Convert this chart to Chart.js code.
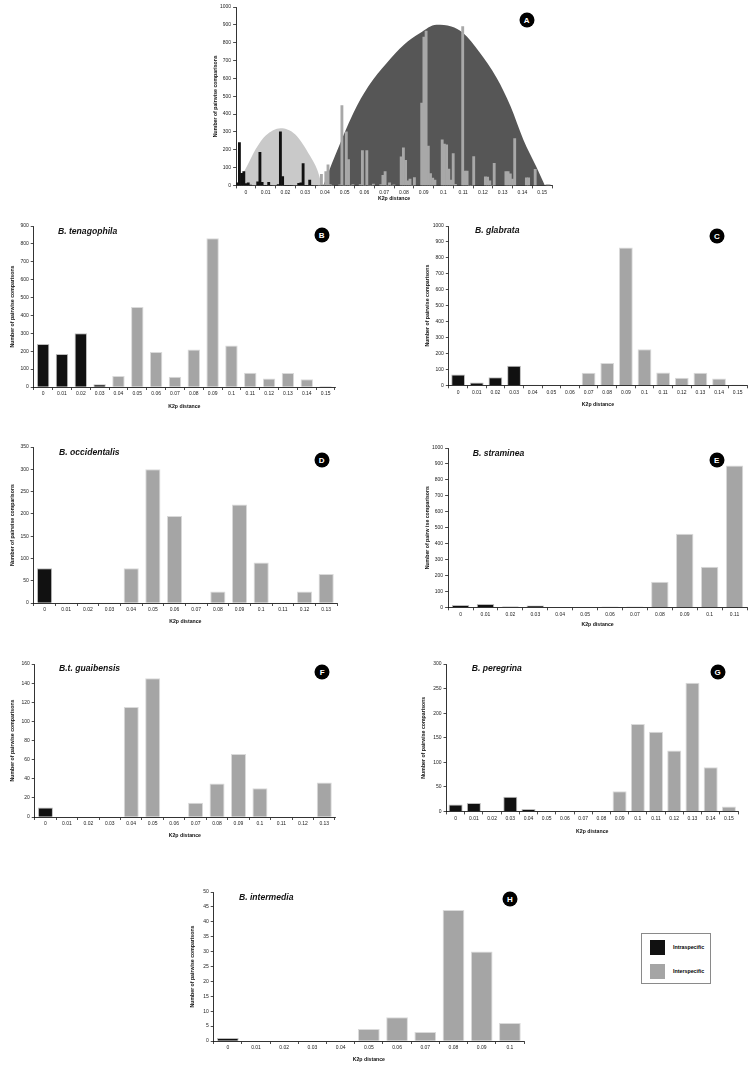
<!DOCTYPE html>
<html>
<head>
<meta charset="utf-8">
<script src="https://cdn.jsdelivr.net/npm/chart.js@4.4.0/dist/chart.umd.min.js"></script>
<style>
  html, body { margin: 0; padding: 0; background: #fff; }
  body { width: 756px; height: 1071px; position: relative; overflow: hidden; font-family: "Liberation Sans", Arial, sans-serif; }
  .panel { position: absolute; }
  .species { position: absolute; font-weight: bold; font-style: italic; font-size: 8.6px; line-height: 1; transform: translateY(-50%); white-space: nowrap; color: #111; }
  .badge { position: absolute; width: 15px; height: 15px; border-radius: 50%; background: #000; color: #fff; font-weight: bold; font-size: 8px; line-height: 15px; text-align: center; transform: translate(-50%, -50%); }
  .legend { position: absolute; left: 641px; top: 933px; width: 70px; height: 51px; border: 1px solid #8a8a8a; box-sizing: border-box; }
  .legend .sw { position: absolute; left: 8px; width: 15px; height: 15px; }
  .legend .lt { position: absolute; left: 31px; font-size: 5.3px; font-weight: bold; line-height: 1; transform: translateY(-50%); white-space: nowrap; }
</style>
</head>
<body>
<div id="root"></div>
<div class="legend">
  <div class="sw" style="top:6px;background:#111;"></div>
  <div class="lt" style="top:13.5px;">Intraspecific</div>
  <div class="sw" style="top:30px;background:#a5a5a5;"></div>
  <div class="lt" style="top:38px;">Interspecific</div>
</div>
<script>
// --- K2p distance classes ---
const K2P_LABELS = ['0', '0.01', '0.02', '0.03', '0.04', '0.05', '0.06', '0.07',
                    '0.08', '0.09', '0.1', '0.11', '0.12', '0.13', '0.14', '0.15'];

// --- counts of pairwise comparisons per class, one array per species ---
const tenagophila  = [240, 185, 300, 15, 62, 447, 195, 57, 210, 832, 232, 80, 48, 78, 43, 5];
const glabrata     = [68, 17, 50, 122, 3, 0, 0, 78, 140, 865, 227, 80, 47, 78, 43, 4];
const occidentalis = [78, 0, 0, 0, 78, 300, 195, 0, 26, 221, 91, 0, 26, 65];
const straminea    = [15, 20, 5, 12, 0, 3, 5, 5, 160, 462, 255, 890];
const guaibensis   = [10, 0, 0, 0, 115, 145, 0, 15, 35, 66, 30, 0, 0, 36];
const peregrina    = [14, 17, 0, 30, 5, 0, 0, 0, 0, 41, 178, 162, 124, 262, 90, 10];
const intermedia   = [1, 0, 0, 0, 0, 4, 8, 3, 44, 30, 6];

// --- outline of the shaded areas behind panel A ---
const intraCurveX = [-0.005, 0, 0.005, 0.01, 0.0175, 0.025, 0.0325, 0.036, 0.0385];
const intraCurveY = [0, 97, 205, 280, 321, 286, 165, 90, 0];
const interCurveX = [0.0392, 0.045, 0.0544, 0.062, 0.0713, 0.08, 0.0882, 0.0965, 0.104, 0.11, 0.118, 0.127, 0.134, 0.1405, 0.147, 0.1514];
const interCurveY = [0, 163, 406, 556, 686, 788, 854, 900, 890, 854, 751, 602, 443, 256, 106, 0];

const FONT = '"Liberation Sans", Arial, sans-serif';
const INTRA_COLOR = '#111111';
const INTER_COLOR = '#a5a5a5';
const TITLE_SIZE = 5.2;
const TITLE_HALF = TITLE_SIZE * 1.2 / 2;
const PAD_TOP = 6, PAD_RIGHT = 4;

Chart.defaults.font.family = FONT;
Chart.defaults.animation = false;

const YTITLE = 'Number of pairwise comparisons';

// plot: [left, top, right, bottom] of the plot area in page px
const panels = [
  { badge: 'B', name: 'B. tenagophila', counts: tenagophila, intra: 4, max: 900, step: 100,
    plot: [33.3, 225.7, 335, 386.7], yTitleX: 11.7, xTitleY: 406.7, barPct: 0.66,
    namePos: [58, 231], badgePos: [321.7, 235] },
  { badge: 'C', name: 'B. glabrata', counts: glabrata, intra: 5, max: 1000, step: 100,
    plot: [449, 226, 746.7, 385.3], yTitleX: 427.3, xTitleY: 405, barPct: 0.74,
    namePos: [475, 230], badgePos: [717, 235.7] },
  { badge: 'D', name: 'B. occidentalis', counts: occidentalis, intra: 1, max: 350, step: 50,
    plot: [33.3, 447.3, 337, 603.3], yTitleX: 11.7, xTitleY: 622, barPct: 0.7,
    namePos: [59, 452], badgePos: [321.7, 460] },
  { badge: 'E', name: 'B. straminea', counts: straminea, intra: 4, max: 1000, step: 100,
    plot: [447.7, 447.7, 746.7, 607], yTitleX: 426.7, xTitleY: 625, barPct: 0.7,
    namePos: [472.7, 452.7], badgePos: [716.7, 460], yTitle: 'Number of pairw ise comparisons' },
  { badge: 'F', name: 'B.t. guaibensis', counts: guaibensis, intra: 1, max: 160, step: 20,
    plot: [34.3, 664.3, 334.3, 817.3], yTitleX: 11.7, xTitleY: 836, barPct: 0.7,
    namePos: [59, 668.3], badgePos: [322.3, 671.7] },
  { badge: 'G', name: 'B. peregrina', counts: peregrina, intra: 5, max: 300, step: 50,
    plot: [446.7, 664.3, 738.3, 811.7], yTitleX: 423.3, xTitleY: 832, barPct: 0.77,
    namePos: [471.7, 668.3], badgePos: [717.7, 671.7] },
  { badge: 'H', name: 'B. intermedia', counts: intermedia, intra: 1, max: 50, step: 5,
    plot: [213.3, 892.3, 523.3, 1041.3], yTitleX: 191.7, xTitleY: 1060, barPct: 0.77,
    namePos: [239, 896.7], badgePos: [510, 899.3] }
];

const root = document.getElementById('root');

function addText(cls, text, x, y) {
  const el = document.createElement('div');
  el.className = cls;
  el.textContent = text;
  el.style.left = x + 'px';
  el.style.top = y + 'px';
  document.body.appendChild(el);
}

function makeCanvas(p) {
  const [l, t, r, b] = p.plot;
  const left = p.yTitleX - TITLE_HALF;
  const top = t - PAD_TOP;
  const width = Math.round(r + PAD_RIGHT - left);
  const height = Math.round(p.xTitleY + TITLE_HALF - top);
  const div = document.createElement('div');
  div.className = 'panel';
  div.style.left = left + 'px';
  div.style.top = top + 'px';
  const canvas = document.createElement('canvas');
  canvas.width = width;
  canvas.height = height;
  canvas.style.width = width + 'px';
  canvas.style.height = height + 'px';
  div.appendChild(canvas);
  root.appendChild(div);
  return { canvas, yw: l - left, xh: top + height - b };
}

function axes(p, box) {
  return {
    x: {
      type: 'category',
      offset: true,
      grid: { offset: true, drawOnChartArea: false, tickLength: 3, color: '#000', lineWidth: 0.7 },
      border: { color: '#000', width: 0.8 },
      ticks: { font: { size: 5 }, color: '#222', padding: 1, maxRotation: 0, autoSkip: false },
      title: { display: true, text: 'K2p distance', font: { size: TITLE_SIZE, weight: 'bold' }, color: '#111', padding: 0 },
      afterFit: s => { s.height = box.xh; }
    },
    y: {
      min: 0,
      max: p.max,
      ticks: { stepSize: p.step, font: { size: 5 }, color: '#222', padding: 2, callback: v => String(v) },
      grid: { drawOnChartArea: false, tickLength: 3, color: '#000', lineWidth: 0.7 },
      border: { color: '#000', width: 0.8 },
      title: { display: true, text: p.yTitle || YTITLE, font: { size: TITLE_SIZE, weight: 'bold' }, color: '#111', padding: 0 },
      afterFit: s => { s.width = box.yw; }
    }
  };
}

const baseOptions = {
  responsive: false,
  animation: false,
  layout: { padding: { top: PAD_TOP, right: PAD_RIGHT, left: 0, bottom: 0 } },
  plugins: { legend: { display: false }, tooltip: { enabled: false } }
};

// --- species panels B-H ---
panels.forEach(p => {
  const box = makeCanvas(p);
  const labels = K2P_LABELS.slice(0, p.counts.length);
  new Chart(box.canvas, {
    type: 'bar',
    data: {
      labels,
      datasets: [
        {
          label: 'Intraspecific',
          data: p.counts.map((v, i) => (i < p.intra ? v : null)),
          backgroundColor: INTRA_COLOR,
          borderColor: '#bdbdbd',
          borderWidth: 1,
          grouped: false,
          barPercentage: p.barPct,
          categoryPercentage: 1
        },
        {
          label: 'Interspecific',
          data: p.counts.map((v, i) => (i >= p.intra ? v : null)),
          backgroundColor: INTER_COLOR,
          borderColor: '#dadada',
          borderWidth: 1,
          grouped: false,
          barPercentage: p.barPct,
          categoryPercentage: 1
        }
      ]
    },
    options: { ...baseOptions, scales: axes(p, box) }
  });
  addText('species', p.name, p.namePos[0], p.namePos[1]);
  addText('badge', p.badge, p.badgePos[0], p.badgePos[1]);
});

// --- panel A: all species together, over the two shaded distributions ---
const overview = { max: 1000, step: 100, plot: [236, 7.3, 552, 185.7], yTitleX: 215, xTitleY: 199.3 };
const boxA = makeCanvas(overview);
const pad16 = arr => K2P_LABELS.map((_, i) => (i < arr.length ? arr[i] : null));
const overviewSeries = [straminea, tenagophila, glabrata, occidentalis, guaibensis, peregrina, intermedia];
const classColor = K2P_LABELS.map((_, i) => (i < 4 ? INTRA_COLOR : '#a8a8a8'));

const scalesA = axes(overview, boxA);
scalesA.x.min = 0;
scalesA.x.max = K2P_LABELS.length - 1;
// hidden axes: one for the thin grouped bars (clusters a little wider than the
// labelled classes, as in the figure), one for the shaded curves
scalesA.xb = { type: 'linear', display: false, offset: false, grid: { offset: false }, min: -0.007512, max: 0.146585 };
scalesA.x2 = { type: 'linear', display: false, offset: false, min: -0.005, max: 0.155 };

new Chart(boxA.canvas, {
  type: 'bar',
  data: {
    labels: K2P_LABELS,
    datasets: [
      ...overviewSeries.map(s => ({
        xAxisID: 'xb',
        data: pad16(s),
        backgroundColor: classColor,
        borderWidth: 0,
        barThickness: 2.2,
        order: 0
      })),
      {
        type: 'line',
        xAxisID: 'x2',
        data: intraCurveX.map((x, i) => ({ x, y: intraCurveY[i] })),
        fill: 'origin',
        backgroundColor: '#c9c9c9',
        borderWidth: 0,
        pointRadius: 0,
        cubicInterpolationMode: 'monotone',
        order: 1
      },
      {
        type: 'line',
        xAxisID: 'x2',
        data: interCurveX.map((x, i) => ({ x, y: interCurveY[i] })),
        fill: 'origin',
        backgroundColor: '#565656',
        borderWidth: 0,
        pointRadius: 0,
        cubicInterpolationMode: 'monotone',
        order: 1
      }
    ]
  },
  options: { ...baseOptions, scales: scalesA }
});
addText('badge', 'A', 526.7, 20);
</script>
</body>
</html>
